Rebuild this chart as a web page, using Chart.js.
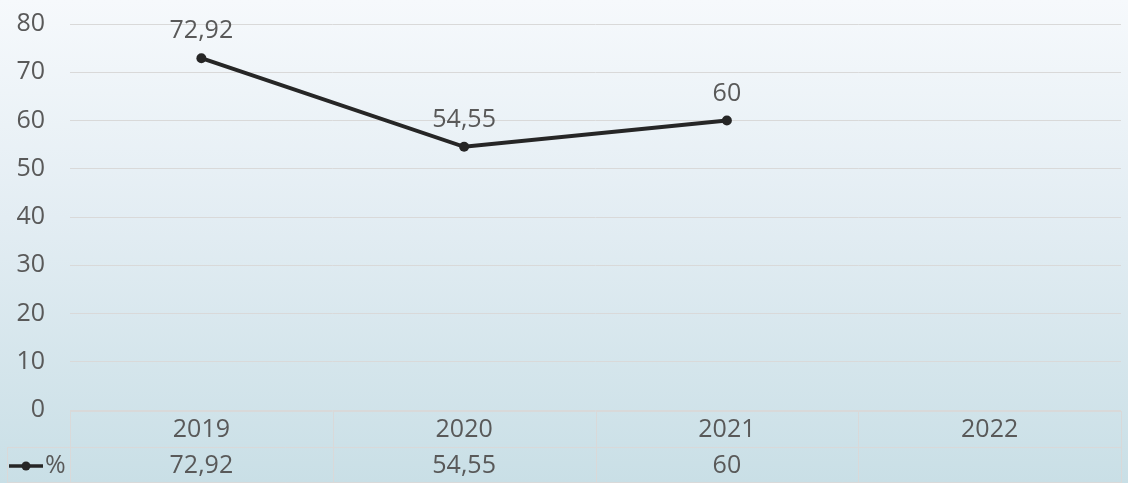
<!DOCTYPE html>
<html>
<head>
<meta charset="utf-8">
<script src="https://cdn.jsdelivr.net/npm/chart.js@4/dist/chart.umd.min.js"></script>
<style>
  html, body { margin: 0; padding: 0; }
  body {
    width: 1128px; height: 483px; overflow: hidden; position: relative;
    background: linear-gradient(to bottom, #f6f9fc 0%, #e3edf3 45%, #c9dfe6 100%);
  }
  /* canvas starts a little above the page so the top gridline sits near the edge */
  #wrap { position: absolute; left: 0; top: -16px; width: 1128px; height: 499px; }
</style>
</head>
<body>
<div id="wrap"><canvas id="chart"></canvas></div>
<script>
'use strict';

/* ─── Data ──────────────────────────────────────────────── */
const years = ['2019', '2020', '2021', '2022'];
const percentValues = [72.92, 54.55, 60, null];
const yTicks = [0, 10, 20, 30, 40, 50, 60, 70, 80];
const seriesName = '%';

const TEXT_COLOR = '#595959';
const GRID_COLOR = '#d9d9d9';
const LINE_COLOR = '#262626';
const FONT = "'Open Sans', 'DejaVu Sans', sans-serif";
const FONT_SIZE = 25;

const fmt = (v) => String(v).replace('.', ',');

/* ─── Data labels above points ───────────────────────────── */
const pointLabels = {
  id: 'pointLabels',
  afterDatasetsDraw(chart) {
    const ctx = chart.ctx;
    const meta = chart.getDatasetMeta(0);
    ctx.save();
    ctx.font = `${FONT_SIZE}px ${FONT}`;
    ctx.fillStyle = TEXT_COLOR;
    ctx.textAlign = 'center';
    ctx.textBaseline = 'middle';
    meta.data.forEach((pt, i) => {
      const v = percentValues[i];
      if (v == null) return;
      ctx.fillText(fmt(v), pt.x, pt.y - 27);
    });
    ctx.restore();
  },
};

/* ─── Data table under the plot ─────────────────────────── */
const dataTable = {
  id: 'dataTable',
  afterDraw(chart) {
    const ctx = chart.ctx;
    const area = chart.chartArea;
    const x = chart.scales.x;
    const colW = (area.right - area.left) / years.length;
    const top = area.bottom + 1;
    const mid = top + 36;
    const bot = mid + 36;
    const legendLeft = 7;

    ctx.save();
    ctx.strokeStyle = GRID_COLOR;
    ctx.lineWidth = 1;
    ctx.beginPath();
    ctx.moveTo(area.left, top + 0.5); ctx.lineTo(area.right, top + 0.5);
    ctx.moveTo(legendLeft, mid + 0.5); ctx.lineTo(area.right, mid + 0.5);
    ctx.moveTo(legendLeft, bot - 0.5); ctx.lineTo(area.right, bot - 0.5);
    for (let i = 0; i <= years.length; i++) {
      const xx = Math.round(area.left + i * colW) + 0.5;
      ctx.moveTo(xx, top); ctx.lineTo(xx, bot);
    }
    ctx.moveTo(legendLeft + 0.5, mid); ctx.lineTo(legendLeft + 0.5, bot);
    ctx.stroke();

    ctx.font = `${FONT_SIZE}px ${FONT}`;
    ctx.fillStyle = TEXT_COLOR;
    ctx.textAlign = 'center';
    ctx.textBaseline = 'middle';
    years.forEach((y, i) => {
      const cx = x.getPixelForValue(i);
      ctx.fillText(y, cx, (top + mid) / 2 + 1);
      const v = percentValues[i];
      if (v != null) ctx.fillText(fmt(v), cx, (mid + bot) / 2 + 1);
    });

    // legend key
    const ky = (mid + bot) / 2 + 1;
    ctx.strokeStyle = LINE_COLOR;
    ctx.lineWidth = 3.5;
    ctx.beginPath();
    ctx.moveTo(9, ky); ctx.lineTo(43, ky);
    ctx.stroke();
    ctx.fillStyle = LINE_COLOR;
    ctx.beginPath();
    ctx.arc(26, ky, 4.5, 0, Math.PI * 2);
    ctx.fill();
    ctx.fillStyle = TEXT_COLOR;
    ctx.textAlign = 'left';
    ctx.fillText(seriesName, 45, ky);
    ctx.restore();
  },
};

new Chart(document.getElementById('chart').getContext('2d'), {
  type: 'line',
  data: {
    labels: years,
    datasets: [{
      label: seriesName,
      data: percentValues,
      borderColor: LINE_COLOR,
      backgroundColor: LINE_COLOR,
      borderWidth: 4,
      pointRadius: 5,
      pointBackgroundColor: LINE_COLOR,
      pointBorderWidth: 0,
      tension: 0,
      fill: false,
    }],
  },
  options: {
    responsive: true,
    maintainAspectRatio: false,
    animation: false,
    layout: { padding: { top: 0, right: 7, bottom: 73, left: 0 } },
    plugins: { legend: { display: false }, tooltip: { enabled: false } },
    scales: {
      x: {
        offset: true,
        grid: { display: false, drawTicks: false },
        border: { display: false },
        ticks: { display: false },
      },
      y: {
        min: 0,
        max: 80,
        afterBuildTicks: (s) => { s.ticks = yTicks.map(v => ({ value: v })); },
        afterFit: (s) => { s.width = 70; },
        grid: { color: GRID_COLOR, drawTicks: false, lineWidth: 1 },
        border: { display: false },
        ticks: {
          color: TEXT_COLOR,
          padding: 25,
          font: { family: FONT, size: FONT_SIZE },
        },
      },
    },
  },
  plugins: [pointLabels, dataTable],
});
</script>
</body>
</html>
